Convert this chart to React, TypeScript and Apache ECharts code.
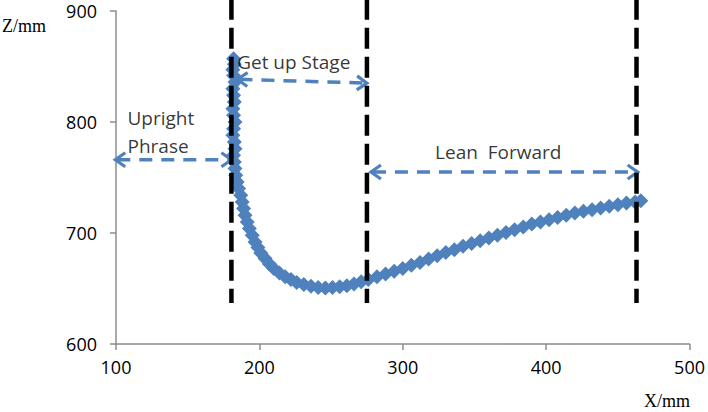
import React, { useEffect, useRef } from "react";
import * as echarts from "echarts";

const curveX = [
  182, 182.5, 181.5, 182, 183, 181.5, 182, 182.5, 181.5, 182, 183, 182, 181.5, 182.5, 183, 182, 182.5, 183, 183.5, 184.5, 185.5,
  187, 188, 189, 190, 191.5, 193, 195, 197, 199, 201, 204, 207, 210, 214, 218, 222, 226, 231, 236, 241, 246, 251, 256, 261, 266, 271, 276,
  282, 288, 294, 300, 306, 312, 318, 324, 330, 336, 342, 348, 354, 360, 366, 372, 378, 384, 390, 396, 402, 408, 414, 420, 426, 432, 438, 444, 450, 456, 462, 466,
];
const curveZ = [
  857, 852, 847, 842, 836, 830, 824, 818, 812, 806, 800, 794, 788, 782, 776, 770, 764, 758, 752, 746, 740,
  734, 728, 722, 716, 710, 704, 698, 692, 687, 682, 677, 672, 668, 664, 660.5, 658, 655.5, 653.5, 652, 651, 650.5, 651, 651.5, 652.5, 654, 656, 658,
  660.5, 663, 665.5, 668, 671, 673.5, 676.5, 679.5, 682.5, 685, 688, 690.5, 693, 695.5, 698, 700.5, 703, 705.5, 708, 710, 712, 714, 716, 718, 719.5, 721, 722.5, 724, 725.5, 727, 728, 729,
];

// stage boundaries (vertical dashed lines)
const boundaryX = [180.5, 275, 463];
const boundaryZRange = [911, 637];

// arrows: [x1, z1, x2, z2]
const arrows = [
  [99.5, 766, 180.5, 766],
  [184.7, 838.5, 275, 835],
  [277.8, 755, 463.8, 755],
];

// annotation labels: [text, x, z]
const labels: [string, number, number][] = [
  ["Upright", 108, 804],
  ["Phrase", 108, 778.5],
  ["Get up Stage", 184.5, 854],
  ["Lean  Forward", 322.5, 773],
];

const xTicks = { min: 100, max: 500, interval: 100 };
const yTicks = { min: 600, max: 900, interval: 100 };

const BLUE = "#4F81BD";
const AXIS = "#8c8c8c";

export default function App() {
  const ref = useRef<HTMLDivElement>(null);
  useEffect(() => {
    if (!ref.current) return;
    const chart = echarts.init(ref.current, undefined, { renderer: "svg" });
    const curve = curveX.map((x, i) => [x, curveZ[i]]);
    const series: any[] = [
      {
        type: "line",
        data: curve,
        symbol: "diamond",
        symbolSize: 15,
        showSymbol: true,
        lineStyle: { color: BLUE, width: 4 },
        itemStyle: { color: BLUE, borderWidth: 0 },
        z: 2,
        silent: true,
      },
      ...boundaryX.map((bx) => ({
        type: "line",
        data: [
          [bx, boundaryZRange[0]],
          [bx, boundaryZRange[1]],
        ],
        symbol: "none",
        clip: false,
        lineStyle: { color: "#000", width: 4.5, type: [21, 8] },
        z: 5,
        silent: true,
      })),
      {
        type: "custom",
        coordinateSystem: "cartesian2d",
        data: arrows,
        encode: { x: [0, 2], y: [1, 3] },
        clip: false,
        z: 4,
        silent: true,
        renderItem: (params: any, api: any) => {
          const p1 = api.coord([api.value(0), api.value(1)]);
          const p2 = api.coord([api.value(2), api.value(3)]);
          const dx = p2[0] - p1[0];
          const dy = p2[1] - p1[1];
          const len = Math.sqrt(dx * dx + dy * dy);
          const ux = dx / len;
          const uy = dy / len;
          const L = 10;
          const W = 7;
          const head = (tip: number[], dir: number) => {
            const bx = tip[0] - dir * ux * L;
            const by = tip[1] - dir * uy * L;
            return {
              type: "polyline",
              shape: {
                points: [
                  [bx - uy * W, by + ux * W],
                  tip,
                  [bx + uy * W, by - ux * W],
                ],
              },
              style: { stroke: BLUE, lineWidth: 3.2, fill: "none" },
            };
          };
          return {
            type: "group",
            children: [
              {
                type: "line",
                shape: { x1: p1[0] + ux * 2, y1: p1[1] + uy * 2, x2: p2[0] - ux * 2, y2: p2[1] - uy * 2 },
                style: { stroke: BLUE, lineWidth: 3.5, lineDash: [13, 9], fill: "none" },
              },
              head(p1, -1),
              head(p2, 1),
            ],
          };
        },
      },
      {
        type: "scatter",
        data: labels.map((l) => ({ value: [l[1], l[2]], name: l[0] })),
        symbolSize: 0,
        silent: true,
        z: 6,
        label: {
          show: true,
          position: "inside",
          align: "left",
          verticalAlign: "middle",
          formatter: (p: any) => p.name,
          fontFamily: "Open Sans",
          fontSize: 19,
          color: "#000",
        },
      },
    ];
    chart.setOption({
      animation: false,
      grid: { left: 116, right: 16, top: 11, bottom: 68, containLabel: false },
      xAxis: {
        type: "value",
        min: xTicks.min,
        max: xTicks.max,
        interval: xTicks.interval,
        splitLine: { show: false },
        axisLine: { show: true, lineStyle: { color: AXIS, width: 1.5 } },
        axisTick: { show: true, length: 6, lineStyle: { color: AXIS, width: 1.5 } },
        axisLabel: { fontFamily: "Open Sans", fontSize: 18, color: "#000", margin: 14 },
      },
      yAxis: {
        type: "value",
        min: yTicks.min,
        max: yTicks.max,
        interval: yTicks.interval,
        splitLine: { show: false },
        axisLine: { show: true, lineStyle: { color: AXIS, width: 1.5 } },
        axisTick: { show: true, length: 6, lineStyle: { color: AXIS, width: 1.5 } },
        axisLabel: { fontFamily: "Open Sans", fontSize: 18, color: "#000", margin: 19 },
      },
      graphic: [
        {
          type: "text",
          left: 2,
          top: 17,
          style: { text: "Z/mm", font: '18px "Liberation Serif"', fill: "#000" },
        },
        {
          type: "text",
          right: 18,
          top: 392,
          style: { text: "X/mm", font: '18px "Liberation Serif"', fill: "#000" },
        },
      ],
      series,
    });
    return () => chart.dispose();
  }, []);
  return (
    <div
      ref={ref}
      style={{ position: "fixed", left: 0, top: 0, width: 708, height: 412, background: "#fff" }}
    />
  );
}
